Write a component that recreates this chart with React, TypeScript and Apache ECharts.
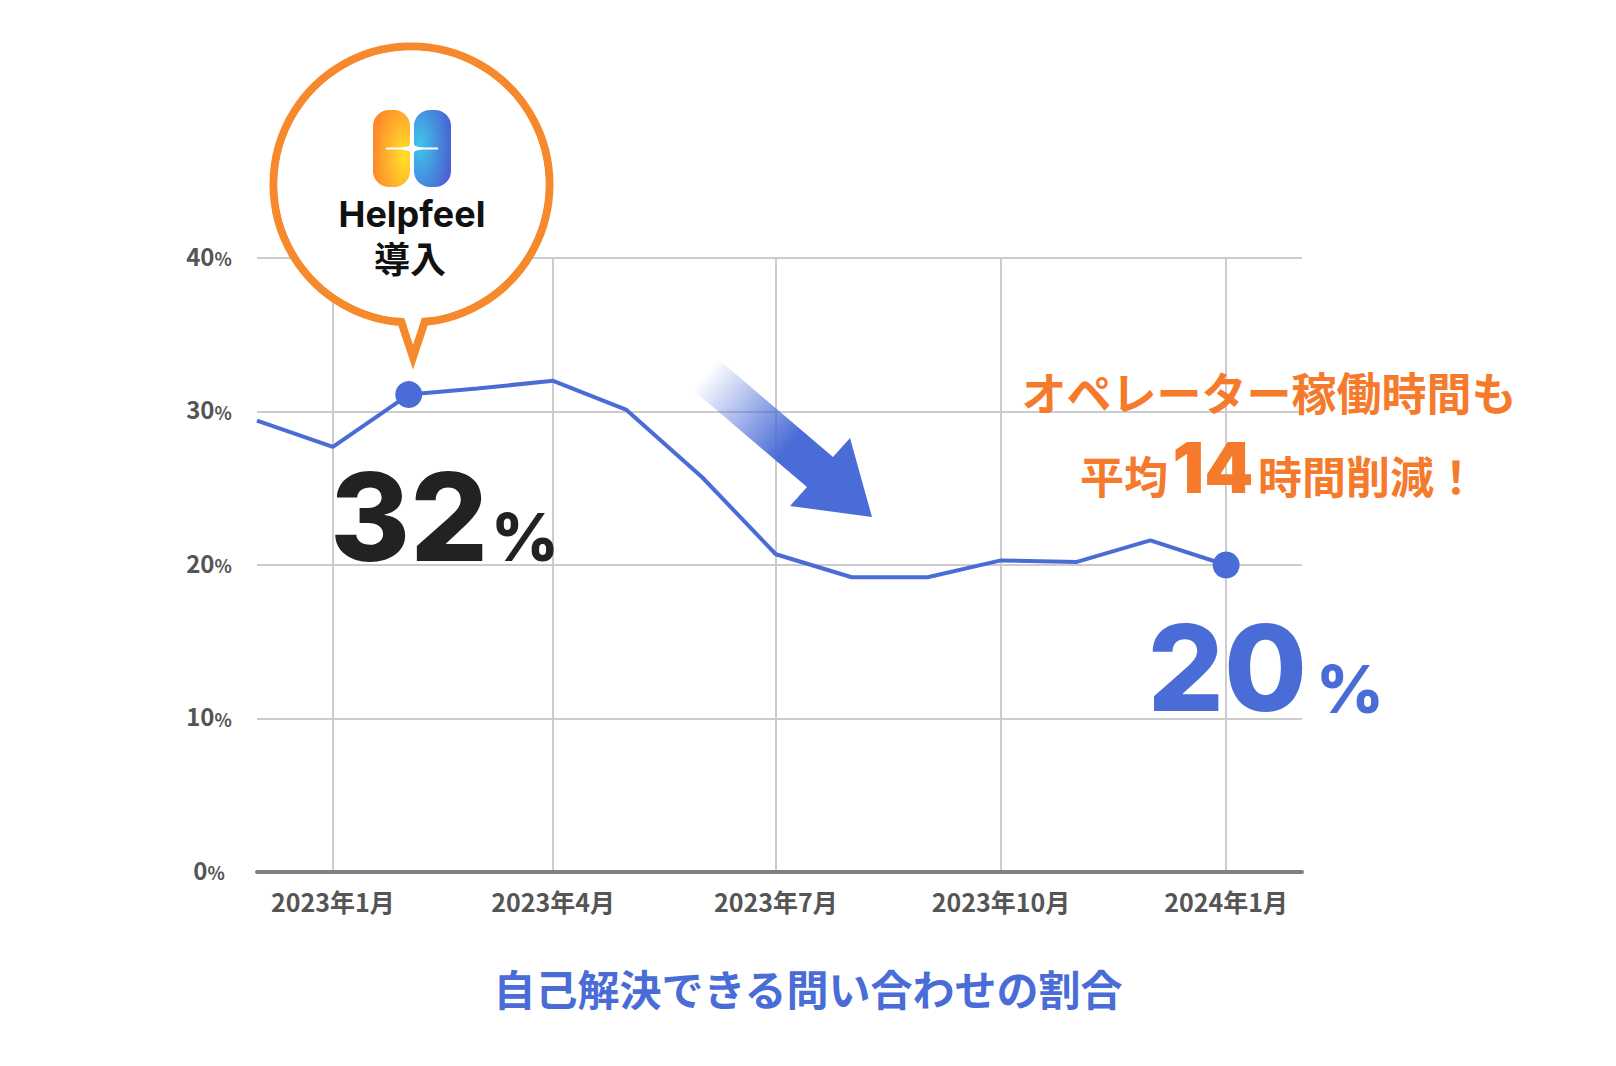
import React, { useEffect, useRef } from 'react';
import * as echarts from 'echarts';

// ---- data ----
const months = ['2022-12', '2023-01', '2023-02', '2023-03', '2023-04', '2023-05', '2023-06', '2023-07', '2023-08', '2023-09', '2023-10', '2023-11', '2023-12', '2024-01'];
const values = [29.4, 27.7, 31.1, 31.5, 32.0, 30.1, 25.7, 20.7, 19.2, 19.2, 20.3, 20.2, 21.6, 20.0];
const highlighted = ['2023-02', '2024-01'];
const xTickMonths = ['2023-01', '2023-04', '2023-07', '2023-10', '2024-01'];
const xRange = ['2022-12', '2024-02'];
const yTicks = [0, 10, 20, 30, 40];
const titleText = '自己解決できる問い合わせの割合';
const calloutWords = ['Helpfeel', '導入'];
const startValueText = ['32', '%'];
const endValueText = ['20', '%'];
const noteLine1 = 'オペレーター稼働時間も';
const noteLine2 = ['平均', '14', '時間削減！'];

const toTs = (s: string) => {
  const [y, m] = s.split('-').map(Number);
  return new Date(y, m - 1, 1).getTime();
};

const BLUE = '#4A6CD6';
const ORANGE = '#F6892C';
const ORANGE_TXT = '#F57A2C';
const JP = '"Noto Sans CJK JP", "Noto Sans", sans-serif';
const LAT = 'Inter, "Noto Sans", sans-serif';

export default function App() {
  const ref = useRef<HTMLDivElement>(null);
  useEffect(() => {
    if (!ref.current) return;
    const chart = echarts.init(ref.current, null, { renderer: 'svg' });

    const data = months.map((m, i) => ({
      value: [toTs(m), values[i]],
      symbol: highlighted.includes(m) ? 'circle' : 'none',
      symbolSize: 27,
    }));
    const tickTs = xTickMonths.map(toTs);

    const arrowPts = [
      [718, 359], [833, 457], [850, 438], [872, 517], [790, 506], [807, 487], [693, 390],
    ];
    const arrowGrad = new echarts.graphic.LinearGradient(705.5, 374.5, 872, 517, [
      { offset: 0, color: 'rgba(74,108,214,0)' },
      { offset: 0.5, color: 'rgba(74,108,214,1)' },
      { offset: 1, color: 'rgba(74,108,214,1)' },
    ], true);

    const leftPillGrad = new echarts.graphic.RadialGradient(0.85, 0.6, 0.85, [
      { offset: 0, color: '#FFE12A' },
      { offset: 1, color: '#FF8A2B' },
    ]);
    const rightPillGrad = new echarts.graphic.RadialGradient(0.15, 0.45, 0.9, [
      { offset: 0, color: '#40C6EA' },
      { offset: 1, color: '#4A5FD4' },
    ]);

    const cx = 411.5;
    const cy = 184.5;

    const option: any = {
      animation: false,
      backgroundColor: '#ffffff',
      grid: { left: 257, right: 314, top: 258, bottom: 194, containLabel: false, outerBoundsMode: 'none' },
      xAxis: {
        type: 'value',
        min: toTs(xRange[0]),
        max: toTs(xRange[1]),
        axisLine: { show: true, onZero: false, lineStyle: { color: '#808080', width: 4 } },
        axisTick: { show: false, customValues: tickTs },
        axisLabel: {
          customValues: tickTs,
          margin: 16,
          fontSize: 25,
          fontWeight: 'bold',
          color: '#555555',
          fontFamily: JP,
          formatter: (v: number) => {
            const d = new Date(v);
            return `${d.getFullYear()}年${d.getMonth() + 1}月`;
          },
        },
        splitLine: { show: true, lineStyle: { color: '#cccccc', width: 2 } },
      },
      yAxis: {
        type: 'value',
        min: yTicks[0],
        max: yTicks[yTicks.length - 1],
        interval: 10,
        axisLine: { show: false },
        axisTick: { show: false },
        splitLine: { show: true, lineStyle: { color: '#cccccc', width: 2 } },
        axisLabel: {
          align: 'center',
          margin: 48,
          formatter: (v: number) => `{n|${v}}{p|%}`,
          rich: {
            n: { fontSize: 24, fontWeight: 'bold', color: '#555555', fontFamily: JP, verticalAlign: 'bottom', lineHeight: 24, padding: [0, 0, 3, 0] },
            p: { fontSize: 18, fontWeight: 'bold', color: '#555555', fontFamily: JP, verticalAlign: 'bottom', lineHeight: 24, padding: [0, 0, 3, 0] },
          },
        },
      },
      series: [
        {
          type: 'line',
          data,
          showSymbol: true,
          lineStyle: { color: BLUE, width: 4 },
          itemStyle: { color: BLUE },
          z: 3,
        },
      ],
      graphic: [
        { type: 'polygon', z: 50, shape: { points: arrowPts }, style: { fill: arrowGrad } },
        { type: 'text', z: 50, style: { text: startValueText[0], x: 488, y: 516, align: 'right', verticalAlign: 'middle', fontSize: 122, fontWeight: 800, fontFamily: LAT, fill: '#222222' } },
        { type: 'text', z: 50, style: { text: startValueText[1], x: 491, y: 537, align: 'left', verticalAlign: 'middle', fontSize: 66, fontWeight: 800, fontFamily: LAT, fill: '#222222' } },
        { type: 'text', z: 50, style: { text: endValueText[0], x: 1307, y: 667, align: 'right', verticalAlign: 'middle', fontSize: 120, fontWeight: 800, fontFamily: LAT, fill: BLUE } },
        { type: 'text', z: 50, style: { text: endValueText[1], x: 1316, y: 689, align: 'left', verticalAlign: 'middle', fontSize: 66, fontWeight: 800, fontFamily: LAT, fill: BLUE } },
        { type: 'text', z: 50, style: { text: noteLine1, x: 1269, y: 391, align: 'center', verticalAlign: 'middle', fontSize: 45, fontWeight: 'bold', fontFamily: JP, fill: ORANGE_TXT } },
        { type: 'text', z: 50, style: { text: noteLine2[0], x: 1168, y: 475, align: 'right', verticalAlign: 'middle', fontSize: 44, fontWeight: 'bold', fontFamily: JP, fill: ORANGE_TXT } },
        { type: 'text', z: 50, style: { text: noteLine2[1], x: 1213, y: 467, align: 'center', verticalAlign: 'middle', fontSize: 70, fontWeight: 900, fontFamily: LAT, fill: ORANGE_TXT } },
        { type: 'text', z: 50, style: { text: noteLine2[2], x: 1258, y: 475, align: 'left', verticalAlign: 'middle', fontSize: 44, fontWeight: 'bold', fontFamily: JP, fill: ORANGE_TXT } },
        { type: 'text', z: 50, style: { text: titleText, x: 808, y: 987, align: 'center', verticalAlign: 'middle', fontSize: 42, fontWeight: 'bold', fontFamily: JP, fill: BLUE } },
        { type: 'circle', z: 60, shape: { cx, cy, r: 138 }, style: { fill: '#ffffff', stroke: ORANGE, lineWidth: 8 } },
        { type: 'polyline', z: 61, shape: { points: [[392.7, 296], [413, 357], [433.3, 296]] }, style: { stroke: ORANGE, lineWidth: 8, lineJoin: 'miter', fill: null } },
        { type: 'circle', z: 62, shape: { cx, cy, r: 134 }, style: { fill: '#ffffff' } },
        { type: 'polygon', z: 62, shape: { points: [[396.9, 296], [413, 344.3], [429.1, 296]] }, style: { fill: '#ffffff' } },
        { type: 'rect', z: 63, shape: { x: 373, y: 110, width: 37, height: 77, r: 16 }, style: { fill: leftPillGrad } },
        { type: 'rect', z: 63, shape: { x: 414, y: 110, width: 37, height: 77, r: 16 }, style: { fill: rightPillGrad } },
        { type: 'line', z: 64, shape: { x1: 386, y1: 148.5, x2: 438, y2: 148.5 }, style: { stroke: '#ffffff', lineWidth: 2 } },
        { type: 'polygon', z: 64, shape: { points: [[412, 140], [415, 146], [425, 148.5], [415, 151], [412, 157], [409, 151], [399, 148.5], [409, 146]] }, style: { fill: '#ffffff' } },
        { type: 'text', z: 64, style: { text: calloutWords[0], x: 412, y: 214, align: 'center', verticalAlign: 'middle', fontSize: 36, fontWeight: 'bold', fontFamily: LAT, fill: '#111111' } },
        { type: 'text', z: 64, style: { text: calloutWords[1], x: 410, y: 257, align: 'center', verticalAlign: 'middle', fontSize: 36, fontWeight: 'bold', fontFamily: JP, fill: '#111111' } },
      ],
    };
    chart.setOption(option);
    return () => chart.dispose();
  }, []);
  return <div ref={ref} style={{ position: 'fixed', left: 0, top: 0, width: 1616, height: 1066 }} />;
}
